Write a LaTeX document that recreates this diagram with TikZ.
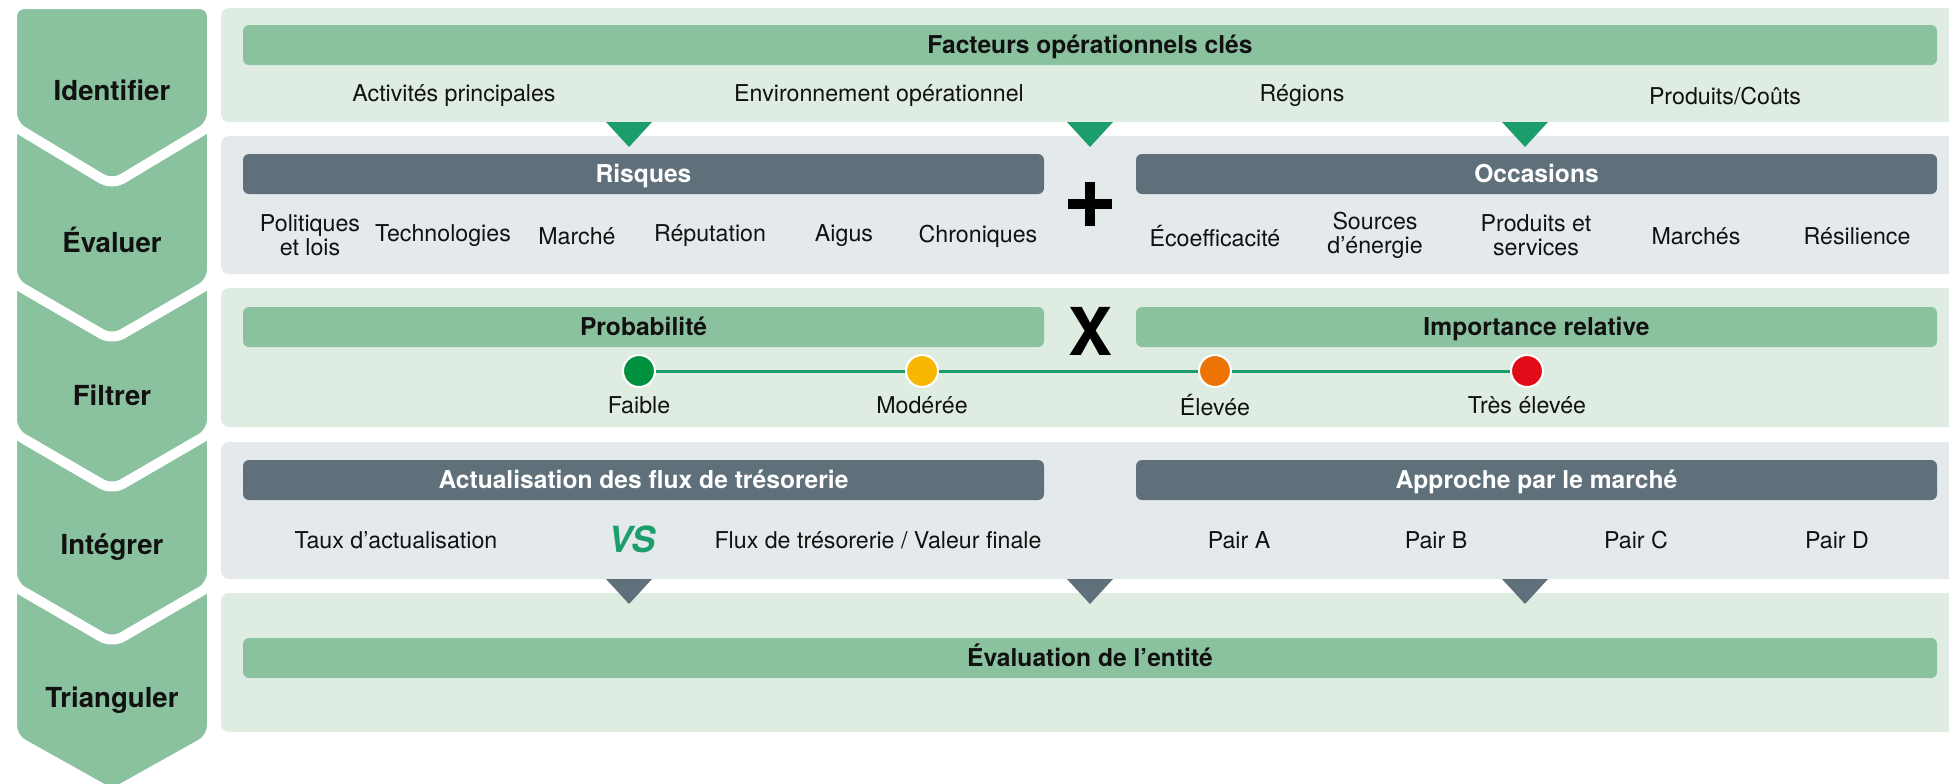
\documentclass[tikz,border=0pt]{standalone}
\usepackage{fontspec}
\setmainfont{TeX Gyre Heros}
\definecolor{chev}{HTML}{8AC29F}
\definecolor{pgreen}{HTML}{DFECE2}
\definecolor{pgrey}{HTML}{E4E9EC}
\definecolor{hgreen}{HTML}{8AC29F}
\definecolor{hgrey}{HTML}{5F707A}
\definecolor{tgreen}{HTML}{1B9E6B}
\definecolor{cgreen}{HTML}{00913F}
\definecolor{cyellow}{HTML}{F8B700}
\definecolor{corange}{HTML}{EC7404}
\definecolor{cred}{HTML}{E10C17}
\definecolor{ink}{HTML}{111111}
\tikzset{
  chevron/.style={fill=chev, draw=white, line width=5pt, rounded corners=6pt, line join=round},
  stagelbl/.style={font=\fontsize{13.8}{15}\selectfont\bfseries, text=ink, inner sep=0pt},
  hbar/.style={rounded corners=3pt, minimum height=20pt, inner sep=0pt, text height=8.8pt, text depth=0pt, font=\fontsize{12.3}{14}\selectfont\bfseries},
  gbar/.style={hbar, fill=hgreen, text=ink},
  dbar/.style={hbar, fill=hgrey, text=white},
  item/.style={font=\fontsize{11.6}{12}\selectfont, align=center, inner sep=0pt, text=ink},
  dot/.style={circle, minimum size=16pt, inner sep=0pt, draw=white, line width=1pt},
  gtri/.style={fill=tgreen},
  dtri/.style={fill=hgrey},
  sign/.style={fill=black}
}
\begin{document}
\begin{tikzpicture}[x=0.5pt,y=-0.5pt]
\useasboundingbox (0,0) rectangle (1949,783);
% ---------- left chevrons (bottom first) ----------
\draw[chevron] (12,555) -- (12,738) -- (112,794) -- (212,738) -- (212,555) -- cycle;
\draw[chevron] (12,400) -- (12,585) -- (112,643) -- (212,585) -- (212,400) -- cycle;
\draw[chevron] (12,250) -- (12,432) -- (112,490) -- (212,432) -- (212,250) -- cycle;
\draw[chevron] (12,100) -- (12,282) -- (112,340) -- (212,282) -- (212,100) -- cycle;
\draw[chevron] (12,4) -- (12,125) -- (112,185) -- (212,125) -- (212,4) -- cycle;
\node[stagelbl] (s1) at (112,90) {Identifier};
\node[stagelbl] (s2) at (112,240) {Évaluer};
\node[stagelbl] (s3) at (112,395) {Filtrer};
\node[stagelbl] (s4) at (112,547) {Intégrer};
\node[stagelbl] (s5) at (112,700) {Trianguler};
% ---------- panels ----------
\fill[pgreen, rounded corners=4pt] (221,8) rectangle (1965,122);
\fill[pgrey, rounded corners=4pt] (221,136) rectangle (1965,274);
\fill[pgreen, rounded corners=4pt] (221,288) rectangle (1965,427);
\fill[pgrey, rounded corners=4pt] (221,442) rectangle (1965,579);
\fill[pgreen, rounded corners=4pt] (221,593) rectangle (1965,732);
% ---------- row 1 ----------
\node[gbar, minimum width=847pt] (fac) at (1090,45) {Facteurs opérationnels clés};
\node[item] (a1) at (454,96) {Activités principales};
\node[item] (a2) at (879,96) {Environnement opérationnel};
\node[item] (a3) at (1302,96) {Régions};
\node[item] (a4) at (1725,96) {Produits/Coûts};
\fill[gtri] (606,122) -- (652,122) -- (629,147) -- cycle;
\fill[gtri] (1067,122) -- (1113,122) -- (1090,147) -- cycle;
\fill[gtri] (1502,122) -- (1548,122) -- (1525,147) -- cycle;
% ---------- row 2 ----------
\node[dbar, minimum width=400.5pt] (risk) at (643.5,174) {Risques};
\node[dbar, minimum width=400.5pt] (occ) at (1536.5,174) {Occasions};
\fill[sign] (1085,182) rectangle (1095,226);
\fill[sign] (1068,199) rectangle (1112,209);
\node[item] (r1) at (310,235) {Politiques\\et lois};
\node[item] (r2) at (443,236) {Technologies};
\node[item] (r3) at (577,236) {Marché};
\node[item] (r4) at (710,236) {Réputation};
\node[item] (r5) at (844,236) {Aigus};
\node[item] (r6) at (978,236) {Chroniques};
\node[item] (o1) at (1215,236) {Écoefficacité};
\node[item] (o2) at (1375,235) {Sources\\d’énergie};
\node[item] (o3) at (1536,235) {Produits et\\services};
\node[item] (o4) at (1696,236) {Marchés};
\node[item] (o5) at (1857,236) {Résilience};
% ---------- row 3 ----------
\node[gbar, minimum width=400.5pt] (prob) at (643.5,327) {Probabilité};
\node[gbar, minimum width=400.5pt] (imp) at (1536.5,327) {Importance relative};
\node[font=\fontsize{33}{33}\selectfont\bfseries, inner sep=0pt] (times) at (1090,331) {X};
\node[dot, fill=cgreen] (c1) at (639,371) {};
\node[dot, fill=cyellow] (c2) at (922,371) {};
\node[dot, fill=corange] (c3) at (1215,371) {};
\node[dot, fill=cred] (c4) at (1527,371) {};
\draw[tgreen, line width=1.5pt] (c1) -- (c2);
\draw[tgreen, line width=1.5pt] (c2) -- (c3);
\draw[tgreen, line width=1.5pt] (c3) -- (c4);
\node[item] (l1) at (639,405) {Faible};
\node[item] (l2) at (922,405) {Modérée};
\node[item] (l3) at (1215,405) {Élevée};
\node[item] (l4) at (1527,405) {Très élevée};
% ---------- row 4 ----------
\node[dbar, minimum width=400.5pt] (act) at (643.5,480) {Actualisation des flux de trésorerie};
\node[dbar, minimum width=400.5pt] (appr) at (1536.5,480) {Approche par le marché};
\node[item] (f1) at (396,540) {Taux d’actualisation};
\node[font=\fontsize{18}{18}\selectfont\bfseries\itshape, text=tgreen, inner sep=0pt] (vs) at (632,539) {VS};
\node[item] (f2) at (878,540) {Flux de trésorerie / Valeur finale};
\node[item] (p1) at (1239,540) {Pair A};
\node[item] (p2) at (1436,540) {Pair B};
\node[item] (p3) at (1636,540) {Pair C};
\node[item] (p4) at (1837,540) {Pair D};
\fill[dtri] (606,579) -- (652,579) -- (629,604) -- cycle;
\fill[dtri] (1067,579) -- (1113,579) -- (1090,604) -- cycle;
\fill[dtri] (1502,579) -- (1548,579) -- (1525,604) -- cycle;
% ---------- row 5 ----------
\node[gbar, minimum width=847pt] (eval) at (1090,658) {Évaluation de l’entité};
\end{tikzpicture}
\end{document}
